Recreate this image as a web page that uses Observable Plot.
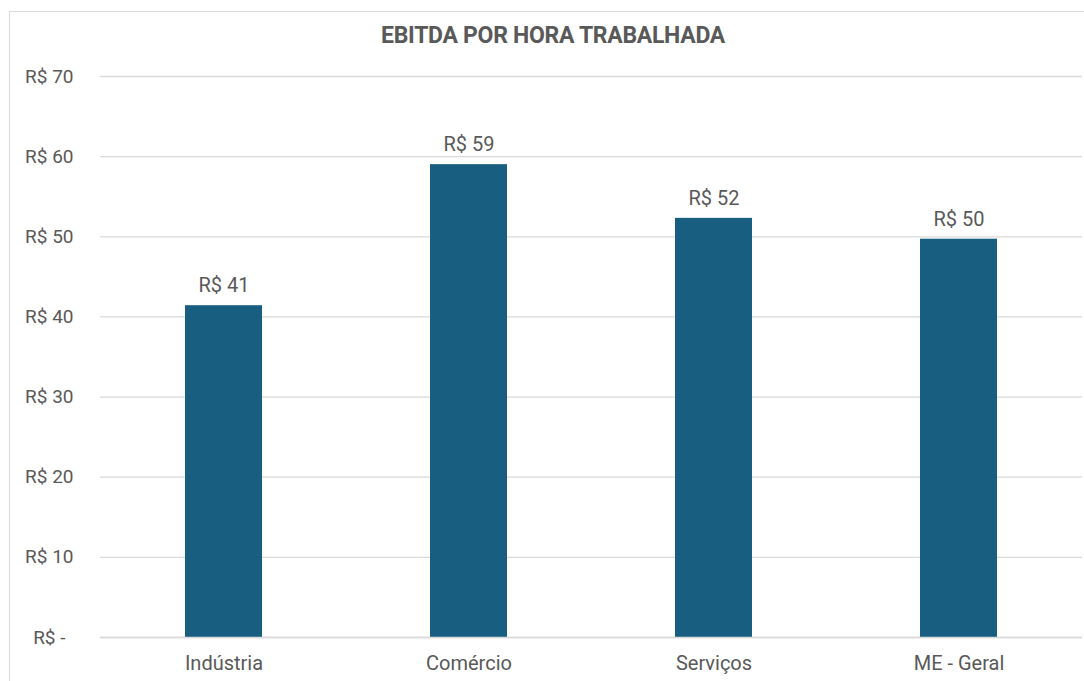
<!DOCTYPE html>
<html><head><meta charset="utf-8">
<script src="https://cdn.jsdelivr.net/npm/d3@7"></script>
<script src="https://cdn.jsdelivr.net/npm/@observablehq/plot@0.6"></script>
<style>
body{margin:0;background:#fff;width:1084px;height:681px;overflow:hidden;position:relative;font-family:Roboto,"Open Sans",sans-serif;}
#frame{position:absolute;left:9px;top:11px;width:1200px;height:800px;border:1px solid #d9d9d9;box-sizing:border-box;}
#title{position:absolute;left:0;top:22px;width:1106px;text-align:center;font-weight:bold;font-size:23px;color:#595959;letter-spacing:-0.3px;}
#chart{position:absolute;left:0;top:60px;}
</style></head><body>
<div id="frame"></div>
<div id="title">EBITDA POR HORA TRABALHADA</div>
<div id="chart"></div>
<script>
const categories = ["Indústria", "Comércio", "Serviços", "ME - Geral"];
const values = [41.4, 59.0, 52.3, 49.7];
const labels = ["R$ 41", "R$ 59", "R$ 52", "R$ 50"];
const yTicks = [0, 10, 20, 30, 40, 50, 60, 70];

const data = categories.map((c, i) => ({cat: c, v: values[i], label: labels[i]}));
const fmt = d => d === 0 ? "R$ -" : `R$ ${d}`;

const plot = Plot.plot({
  width: 1084,
  height: 621,
  marginLeft: 100,
  marginRight: 2,
  marginTop: 16,
  marginBottom: 44,
  style: {fontFamily: "Roboto, sans-serif", fontSize: "19px", color: "#595959", background: "transparent"},
  x: {domain: categories, paddingInner: 0.686, paddingOuter: 0.343, label: null},
  y: {domain: [0, 70], label: null},
  marks: [
    Plot.gridY(yTicks, {stroke: "#d9d9d9", strokeOpacity: 1, strokeWidth: 1.3}),
    Plot.barY(data, {x: "cat", y: "v", fill: "#175E80"}),
    Plot.ruleY([0], {stroke: "#d9d9d9", strokeWidth: 1.3}),
    Plot.axisY(yTicks.filter(d => d !== 0), {tickSize: 0, tickPadding: 0, tickFormat: fmt, textAnchor: "end", dx: -27, fill: "#595959", label: null, fontSize: 19}),
    Plot.axisY([0], {tickSize: 0, tickPadding: 0, tickFormat: fmt, textAnchor: "end", dx: -35, fill: "#595959", label: null, fontSize: 19}),
    Plot.axisX({tickSize: 0, tickPadding: 18, fill: "#595959", label: null, fontSize: 20}),
    Plot.text(data, {x: "cat", y: "v", text: "label", dy: -20, fill: "#595959", fontSize: 20})
  ]
});
document.getElementById("chart").appendChild(plot);
</script>
</body></html>
